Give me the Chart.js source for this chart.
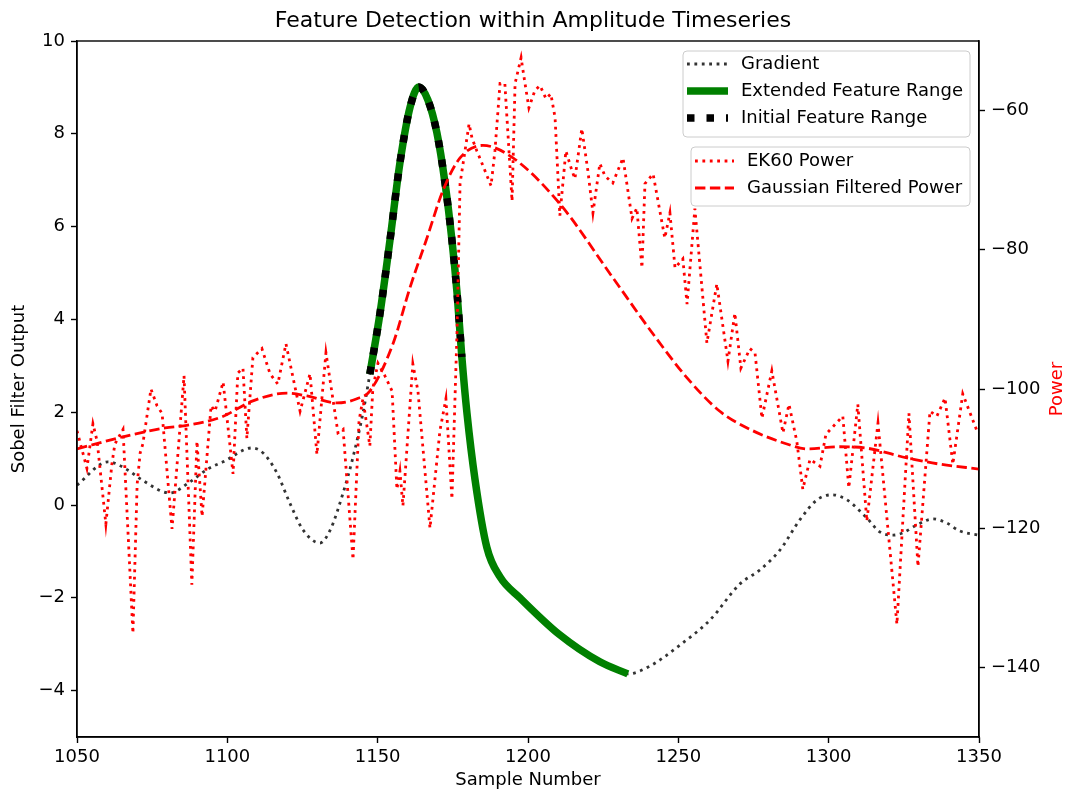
<!DOCTYPE html>
<html lang="en">
  <head>
    <meta charset="UTF-8" />
    <title>Feature Detection within Amplitude Timeseries</title>
    <style>
      html, body { margin: 0; padding: 0; background: #fff; }
      #wrap { position: relative; width: 1066px; height: 792px; }
    </style>
  </head>
  <body>
    <div id="wrap"><canvas id="featureChart" width="1066" height="792"></canvas></div>
    <script src="https://cdn.jsdelivr.net/npm/chart.js"></script>
    <script>
      // Sobel filter output (gradient), left axis
      const gradientSamples = [1050, 1060.3, 1067, 1071.6, 1080.9, 1087.6, 1093.6, 1098.6, 1108.2, 1111.9,
        1116.5, 1120.8, 1125.2, 1130.8, 1134.2, 1138.5, 1141.8, 1145.1, 1147.4, 1150.8,
        1154.1, 1157.4, 1160.8, 1163.7, 1166.7, 1169.7, 1172.4, 1174.7, 1176.4, 1178,
        1179.7, 1182.4, 1186.3, 1190.7, 1197.3, 1210.6, 1223.9, 1233.2, 1240.6, 1250.5,
        1260.5, 1270.5, 1277.1, 1283.8, 1290.4, 1296.1, 1301.1, 1306.1, 1312.7, 1317,
        1321.4, 1324.7, 1329.3, 1334.7, 1339.3, 1343.6, 1350];
      const gradientValues = [0.43, 0.93, 0.75, 0.54, 0.26, 0.5, 0.78, 0.93, 1.23, 1.12,
        0.69, 0.04, -0.54, -0.82, -0.54, 0.26, 1.03, 1.98, 2.82, 4.14,
        5.71, 7.37, 8.58, 9.01, 8.73, 8.02, 6.94, 5.71, 4.57, 3.19,
        1.98, 0.54, -0.91, -1.55, -2.0, -2.8, -3.38, -3.64, -3.47, -3.02,
        -2.48, -1.7, -1.4, -0.97, -0.32, 0.11, 0.22, 0.11, -0.28, -0.58,
        -0.65, -0.6, -0.43, -0.3, -0.39, -0.56, -0.65];

      // feature ranges (sample numbers)
      const featureStart = 1147;
      const initialEnd = 1178.5;
      const extendedEnd = 1234;

      // EK60 power, right axis
      const ek60Samples = [1050, 1053.3, 1055.3, 1056.7, 1059.6, 1061.6, 1062.6, 1065.3, 1068.6, 1070,
        1071, 1071.9, 1074.6, 1076.6, 1078.3, 1081.6, 1085.6, 1088.2, 1089.9, 1091.6,
        1094.6, 1095.9, 1098.6, 1101.9, 1103.5, 1105.2, 1106.5, 1108.5, 1111.5, 1114.2,
        1116.8, 1119.5, 1124.2, 1127.5, 1129.8, 1132.8, 1136.8, 1138.5, 1141.8, 1143.8,
        1145.1, 1147.4, 1148.4, 1150.1, 1152.4, 1154.8, 1156.4, 1157.4, 1158.4, 1161.7,
        1163.4, 1167.4, 1170.7, 1172.7, 1174.7, 1176.4, 1177.4, 1180.4, 1181.4, 1183,
        1185, 1187.7, 1189, 1190.7, 1192.3, 1194.7, 1195.7, 1197.7, 1199, 1200.3,
        1202.3, 1204, 1206, 1207.6, 1209, 1210.6, 1212.6, 1214.6, 1215.6, 1217.9,
        1219.9, 1221.6, 1223.9, 1225.6, 1228.2, 1231.6, 1234.6, 1236.2, 1237.9, 1238.9,
        1241.6, 1245.5, 1247.2, 1248.9, 1251.5, 1252.9, 1255.5, 1259.5, 1262.8, 1266.5,
        1268.8, 1270.8, 1273.8, 1275.5, 1277.8, 1281.1, 1284.8, 1286.8, 1289.4, 1291.4,
        1293.8, 1297.1, 1299.1, 1304.7, 1306.7, 1309.7, 1312.7, 1316.4, 1322.7, 1326.7,
        1329.7, 1333.7, 1336, 1338.7, 1341.3, 1344.6, 1349.3];
      const ek60Power = [-106, -111.4, -105, -107.5, -119.4, -110.8, -107.9, -105.8, -135.1, -113.7,
        -109.2, -107.9, -100, -102.4, -103.5, -120.1, -98.1, -128.1, -107.5, -118.3,
        -102.4, -103.2, -99, -112.2, -97.7, -97, -107.1, -95.5, -94.2, -97.8,
        -99.3, -93.5, -103.2, -97.8, -109.4, -94.8, -106.3, -105.8, -124.5, -104.6,
        -101.4, -108.2, -99.9, -96.3, -98.1, -100.3, -114.4, -111.8, -116.8, -96.4,
        -100.3, -120, -106, -101.4, -115.8, -91.7, -70.5, -61.9, -64, -65.8,
        -67.9, -70.8, -65.8, -56.1, -56.1, -73, -56.1, -52.4, -56.1, -59.6,
        -57.1, -56.4, -58.3, -57.6, -61, -75.1, -65.8, -68.6, -69.8, -62.6,
        -68.6, -74.7, -67.6, -69.4, -70.4, -66.8, -75.5, -74, -82.6, -70.5,
        -69.1, -78.3, -74.7, -82.6, -81.3, -87.8, -74.1, -93.4, -84.9, -96,
        -89.1, -97, -94.2, -94.8, -104.2, -97.4, -106.3, -102.2, -107.5, -114.4,
        -110.1, -111.1, -106.5, -103.9, -114.2, -102.2, -119, -104.9, -133.8, -103.5,
        -125.5, -103.2, -103.9, -101.3, -110.8, -100.7, -106];

      // Gaussian filtered power, right axis
      const gaussSamples = [1050, 1066, 1079.3, 1086.9, 1098.2, 1108.5, 1119.8, 1126.5, 1136.5, 1143.1,
        1147.4, 1155.1, 1160.7, 1166.4, 1171.7, 1177.4, 1185, 1195, 1210.6, 1228.2,
        1241.6, 1252.9, 1263.8, 1274.8, 1286.1, 1292.8, 1303.7, 1312.7, 1326, 1337, 1350];
      const gaussPower = [-108.6, -106.8, -105.6, -105.2, -104, -101.7, -100.6, -101, -102, -101.4,
        -100.3, -93.5, -85.5, -78.3, -71.5, -66.8, -65, -66.8, -73.4, -84,
        -92.1, -98.4, -103.2, -106, -107.9, -108.6, -108.3, -108.5, -109.9, -110.8, -111.5];

      // ticks
      const xTicks = [1050, 1100, 1150, 1200, 1250, 1300, 1350];
      const leftTicks = [-4, -2, 0, 2, 4, 6, 8, 10];
      const rightTicks = [-140, -120, -100, -80, -60];

      const toPoints = (xs, ys) => xs.map((x, i) => ({ x: x, y: ys[i] }));
      const gradientPoints = toPoints(gradientSamples, gradientValues);
      const extendedPoints = gradientPoints.filter((p) => p.x >= featureStart && p.x <= extendedEnd);
      const initialPoints = gradientPoints.filter((p) => p.x >= featureStart && p.x <= initialEnd);

      const FONT = "'DejaVu Sans', sans-serif";
      const minus = (v) => String(v).replace("-", "\u2212");

      // frame, legends and right axis label, drawn after the datasets
      const legendGroups = [
        { box: [683, 51, 287, 86], rows: [64, 91, 118], line: [687, 728], textX: 741,
          labels: ["Gradient", "Extended Feature Range", "Initial Feature Range"] },
        { box: [691, 147, 279, 59], rows: [161, 188], line: [695, 734], textX: 747,
          labels: ["EK60 Power", "Gaussian Filtered Power"] },
      ];

      const decorations = {
        id: "decorations",
        afterDraw(chart) {
          const ctx = chart.ctx;
          const area = chart.chartArea;
          ctx.save();
          ctx.strokeStyle = "#000";
          ctx.lineWidth = 1.4;
          ctx.setLineDash([]);
          ctx.strokeRect(area.left, area.top, area.right - area.left, area.bottom - area.top);

          legendGroups.forEach((g) => {
            const [bx, by, bw, bh] = g.box;
            ctx.beginPath();
            ctx.roundRect(bx, by, bw, bh, 4);
            ctx.fillStyle = "rgba(255,255,255,0.8)";
            ctx.fill();
            ctx.strokeStyle = "#cccccc";
            ctx.lineWidth = 1;
            ctx.stroke();
            g.labels.forEach((label, i) => {
              const ds = chart.data.datasets.find((d) => d.label === label);
              const y = g.rows[i];
              ctx.beginPath();
              ctx.setLineDash(ds.borderDash || []);
              ctx.lineCap = "butt";
              ctx.strokeStyle = ds.borderColor;
              ctx.lineWidth = ds.borderWidth;
              ctx.moveTo(g.line[0], y);
              ctx.lineTo(g.line[1], y);
              ctx.stroke();
              ctx.setLineDash([]);
              ctx.fillStyle = "#000";
              ctx.font = "18px " + FONT;
              ctx.textAlign = "left";
              ctx.textBaseline = "middle";
              ctx.fillText(label, g.textX, y);
            });
          });

          // right axis label reads bottom to top like matplotlib
          ctx.translate(1057, (area.top + area.bottom) / 2);
          ctx.rotate(-Math.PI / 2);
          ctx.fillStyle = "#ff0000";
          ctx.font = "18px " + FONT;
          ctx.textAlign = "center";
          ctx.textBaseline = "middle";
          ctx.fillText("Power", 0, 0);
          ctx.restore();
        },
      };

      const axisGrid = { display: true, drawOnChartArea: false, drawTicks: true, tickLength: 6, tickWidth: 1.4, tickColor: "#000" };
      const axisBorder = { display: true, color: "#000", width: 1.4 };

      const ctx = document.getElementById("featureChart").getContext("2d");
      new Chart(ctx, {
        type: "line",
        data: {
          datasets: [
            {
              label: "Gradient",
              data: gradientPoints,
              yAxisID: "y",
              borderColor: "rgba(0,0,0,0.8)",
              borderWidth: 2.8,
              borderDash: [2.8, 4.6],
              cubicInterpolationMode: "monotone",
              pointRadius: 0,
              order: 5,
            },
            {
              label: "Extended Feature Range",
              data: extendedPoints,
              yAxisID: "y",
              borderColor: "#008000",
              borderWidth: 7.5,
              cubicInterpolationMode: "monotone",
              pointRadius: 0,
              order: 4,
            },
            {
              label: "Initial Feature Range",
              data: initialPoints,
              yAxisID: "y",
              borderColor: "#000",
              borderWidth: 7.5,
              borderDash: [7.5, 12],
              cubicInterpolationMode: "monotone",
              pointRadius: 0,
              order: 3,
            },
            {
              label: "EK60 Power",
              data: toPoints(ek60Samples, ek60Power),
              yAxisID: "y1",
              borderColor: "#ff0000",
              borderWidth: 2.8,
              borderDash: [2.8, 4.6],
              tension: 0,
              pointRadius: 0,
              order: 2,
            },
            {
              label: "Gaussian Filtered Power",
              data: toPoints(gaussSamples, gaussPower),
              yAxisID: "y1",
              borderColor: "#ff0000",
              borderWidth: 2.8,
              borderDash: [10.4, 4.5],
              cubicInterpolationMode: "monotone",
              pointRadius: 0,
              order: 1,
            },
          ],
        },
        options: {
          responsive: false,
          animation: false,
          events: [],
          layout: { padding: 0 },
          plugins: {
            legend: { display: false },
            tooltip: { enabled: false },
            title: {
              display: true,
              text: "Feature Detection within Amplitude Timeseries",
              color: "#000",
              font: { family: FONT, size: 22, weight: "normal" },
              padding: { top: 8, bottom: 6.6 },
            },
          },
          scales: {
            x: {
              type: "linear",
              min: 1050,
              max: 1350,
              grid: axisGrid,
              border: axisBorder,
              afterBuildTicks: (axis) => { axis.ticks = xTicks.map((v) => ({ value: v })); },
              afterFit: (scale) => { scale.height = 55; },
              ticks: { color: "#000", font: { family: FONT, size: 18 }, padding: 4, maxRotation: 0, callback: (v) => minus(v) },
              title: { display: true, text: "Sample Number", color: "#000", font: { family: FONT, size: 18 }, padding: { top: 0, bottom: 1 } },
            },
            y: {
              type: "linear",
              position: "left",
              min: -5,
              max: 10,
              grid: axisGrid,
              border: axisBorder,
              afterBuildTicks: (axis) => { axis.ticks = leftTicks.map((v) => ({ value: v })); },
              afterFit: (scale) => { scale.width = 77; },
              ticks: { color: "#000", font: { family: FONT, size: 18 }, padding: 6, callback: (v) => minus(v) },
              title: { display: true, text: "Sobel Filter Output", color: "#000", font: { family: FONT, size: 18 }, padding: { top: 9, bottom: 0 } },
            },
            y1: {
              type: "linear",
              position: "right",
              min: -150,
              max: -50,
              grid: axisGrid,
              border: axisBorder,
              afterBuildTicks: (axis) => { axis.ticks = rightTicks.map((v) => ({ value: v })); },
              afterFit: (scale) => { scale.width = 87; },
              ticks: { color: "#000", font: { family: FONT, size: 18 }, padding: 6, callback: (v) => minus(v) },
            },
          },
        },
        plugins: [decorations],
      });
    </script>
  </body>
</html>
